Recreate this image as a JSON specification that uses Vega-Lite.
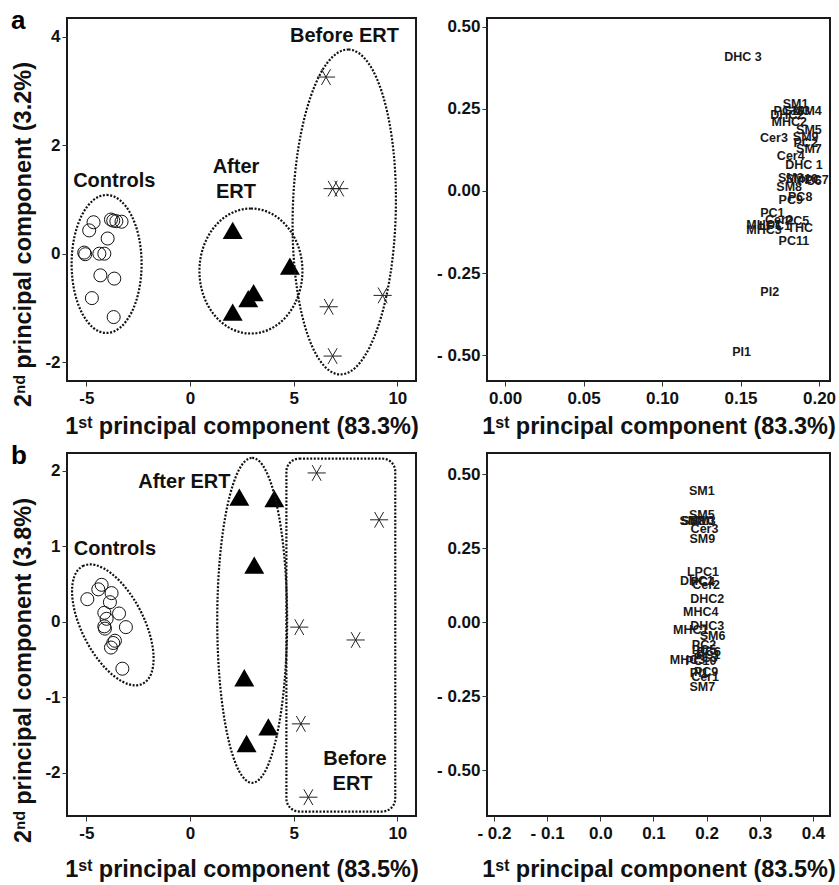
{
  "$schema": "https://vega.github.io/schema/vega-lite/v6.json",
  "padding": {"left": 10, "top": 7, "right": 5, "bottom": 5},
  "columns": 2,
  "spacing": {"row": 72, "column": 71},
  "bounds": "flush",
  "datasets": {
    "pcaA": [
      {"group": "Controls", "pc1": -4.65, "pc2": 0.58},
      {"group": "Controls", "pc1": -4.86, "pc2": 0.43},
      {"group": "Controls", "pc1": -3.81, "pc2": 0.63},
      {"group": "Controls", "pc1": -3.7, "pc2": 0.61},
      {"group": "Controls", "pc1": -3.55, "pc2": 0.6},
      {"group": "Controls", "pc1": -3.3, "pc2": 0.59},
      {"group": "Controls", "pc1": -3.97, "pc2": 0.28},
      {"group": "Controls", "pc1": -5.1, "pc2": 0.02},
      {"group": "Controls", "pc1": -5.05, "pc2": -0.01},
      {"group": "Controls", "pc1": -4.37, "pc2": 0.0},
      {"group": "Controls", "pc1": -4.13, "pc2": 0.0},
      {"group": "Controls", "pc1": -4.32, "pc2": -0.4},
      {"group": "Controls", "pc1": -3.65, "pc2": -0.46},
      {"group": "Controls", "pc1": -4.73, "pc2": -0.82},
      {"group": "Controls", "pc1": -3.68, "pc2": -1.17},
      {"group": "After ERT", "pc1": 2.06, "pc2": 0.43},
      {"group": "After ERT", "pc1": 4.82, "pc2": -0.23},
      {"group": "After ERT", "pc1": 3.07, "pc2": -0.72},
      {"group": "After ERT", "pc1": 2.81, "pc2": -0.83},
      {"group": "After ERT", "pc1": 2.06, "pc2": -1.08},
      {"group": "Before ERT", "pc1": 6.56, "pc2": 3.26},
      {"group": "Before ERT", "pc1": 6.88, "pc2": 1.2},
      {"group": "Before ERT", "pc1": 7.2, "pc2": 1.2},
      {"group": "Before ERT", "pc1": 9.29, "pc2": -0.77},
      {"group": "Before ERT", "pc1": 6.69, "pc2": -0.98},
      {"group": "Before ERT", "pc1": 6.88, "pc2": -1.89}
    ],
    "pcaB": [
      {"group": "Controls", "pc1": -4.95, "pc2": 0.3},
      {"group": "Controls", "pc1": -4.26, "pc2": 0.49},
      {"group": "Controls", "pc1": -4.42, "pc2": 0.43},
      {"group": "Controls", "pc1": -3.78, "pc2": 0.38},
      {"group": "Controls", "pc1": -3.86, "pc2": 0.26},
      {"group": "Controls", "pc1": -4.13, "pc2": 0.12},
      {"group": "Controls", "pc1": -3.42, "pc2": 0.11},
      {"group": "Controls", "pc1": -4.02, "pc2": 0.04},
      {"group": "Controls", "pc1": -4.13, "pc2": -0.06},
      {"group": "Controls", "pc1": -3.09, "pc2": -0.07},
      {"group": "Controls", "pc1": -4.1, "pc2": -0.09},
      {"group": "Controls", "pc1": -3.62, "pc2": -0.25},
      {"group": "Controls", "pc1": -3.7, "pc2": -0.28},
      {"group": "Controls", "pc1": -3.81, "pc2": -0.34},
      {"group": "Controls", "pc1": -3.26, "pc2": -0.62},
      {"group": "After ERT", "pc1": 2.38, "pc2": 1.65},
      {"group": "After ERT", "pc1": 4.07, "pc2": 1.63},
      {"group": "After ERT", "pc1": 3.1, "pc2": 0.75},
      {"group": "After ERT", "pc1": 2.62, "pc2": -0.74},
      {"group": "After ERT", "pc1": 3.78, "pc2": -1.39},
      {"group": "After ERT", "pc1": 2.73, "pc2": -1.61},
      {"group": "Before ERT", "pc1": 6.11, "pc2": 1.97},
      {"group": "Before ERT", "pc1": 9.12, "pc2": 1.35},
      {"group": "Before ERT", "pc1": 5.27, "pc2": -0.07},
      {"group": "Before ERT", "pc1": 7.99, "pc2": -0.24},
      {"group": "Before ERT", "pc1": 5.35, "pc2": -1.35},
      {"group": "Before ERT", "pc1": 5.71, "pc2": -2.32}
    ],
    "loadA": [
      {"lipid": "DHC 3", "pc1": 0.1516, "pc2": 0.409},
      {"lipid": "SM1", "pc1": 0.1851, "pc2": 0.266},
      {"lipid": "PC10", "pc1": 0.181, "pc2": 0.244},
      {"lipid": "SM3", "pc1": 0.186, "pc2": 0.244},
      {"lipid": "SM4", "pc1": 0.1936, "pc2": 0.244},
      {"lipid": "DHC2", "pc1": 0.1798, "pc2": 0.232},
      {"lipid": "MHC2", "pc1": 0.181, "pc2": 0.21},
      {"lipid": "SM5", "pc1": 0.1936, "pc2": 0.186},
      {"lipid": "Cer3", "pc1": 0.1713, "pc2": 0.16},
      {"lipid": "SM9", "pc1": 0.1915, "pc2": 0.163},
      {"lipid": "PC2", "pc1": 0.1915, "pc2": 0.145},
      {"lipid": "SM7", "pc1": 0.1936, "pc2": 0.128},
      {"lipid": "Cer4", "pc1": 0.182, "pc2": 0.108},
      {"lipid": "DHC 1", "pc1": 0.1904, "pc2": 0.078},
      {"lipid": "SM2", "pc1": 0.182, "pc2": 0.041},
      {"lipid": "SM10", "pc1": 0.189, "pc2": 0.036},
      {"lipid": "PC7", "pc1": 0.1985, "pc2": 0.033},
      {"lipid": "PC6", "pc1": 0.194, "pc2": 0.03},
      {"lipid": "SM8", "pc1": 0.181, "pc2": 0.013},
      {"lipid": "PC8", "pc1": 0.188, "pc2": -0.017},
      {"lipid": "PC9", "pc1": 0.182, "pc2": -0.027},
      {"lipid": "PC1", "pc1": 0.1703, "pc2": -0.068},
      {"lipid": "Cer2", "pc1": 0.1745, "pc2": -0.089},
      {"lipid": "PC5", "pc1": 0.186, "pc2": -0.092},
      {"lipid": "MHC1", "pc1": 0.165, "pc2": -0.103},
      {"lipid": "LPC1", "pc1": 0.172, "pc2": -0.106},
      {"lipid": "THC", "pc1": 0.188, "pc2": -0.114},
      {"lipid": "MHC3", "pc1": 0.165, "pc2": -0.12},
      {"lipid": "PC11", "pc1": 0.184, "pc2": -0.152},
      {"lipid": "PI2", "pc1": 0.1686, "pc2": -0.307},
      {"lipid": "PI1", "pc1": 0.1507, "pc2": -0.491}
    ],
    "loadB": [
      {"lipid": "SM1", "pc1": 0.191, "pc2": 0.442},
      {"lipid": "SM5", "pc1": 0.191, "pc2": 0.362},
      {"lipid": "SM8", "pc1": 0.173, "pc2": 0.343},
      {"lipid": "SM3", "pc1": 0.193, "pc2": 0.343},
      {"lipid": "SM10", "pc1": 0.183, "pc2": 0.34},
      {"lipid": "Cer3", "pc1": 0.196, "pc2": 0.315},
      {"lipid": "SM9", "pc1": 0.192, "pc2": 0.281},
      {"lipid": "LPC1", "pc1": 0.193, "pc2": 0.169},
      {"lipid": "DHC1", "pc1": 0.182, "pc2": 0.138},
      {"lipid": "PC4", "pc1": 0.193, "pc2": 0.136},
      {"lipid": "Cer2", "pc1": 0.199, "pc2": 0.124},
      {"lipid": "DHC2", "pc1": 0.201, "pc2": 0.077},
      {"lipid": "MHC4", "pc1": 0.189, "pc2": 0.033},
      {"lipid": "DHC3", "pc1": 0.201, "pc2": -0.012},
      {"lipid": "MHC1", "pc1": 0.17, "pc2": -0.027},
      {"lipid": "SM6", "pc1": 0.211, "pc2": -0.047},
      {"lipid": "PC2", "pc1": 0.195, "pc2": -0.077},
      {"lipid": "PC5", "pc1": 0.195, "pc2": -0.094},
      {"lipid": "PC6", "pc1": 0.204, "pc2": -0.1},
      {"lipid": "PC1", "pc1": 0.203, "pc2": -0.112},
      {"lipid": "PC3", "pc1": 0.198, "pc2": -0.122},
      {"lipid": "MHC3", "pc1": 0.164, "pc2": -0.128},
      {"lipid": "PC10", "pc1": 0.189, "pc2": -0.133},
      {"lipid": "PC9", "pc1": 0.199, "pc2": -0.167},
      {"lipid": "PI1", "pc1": 0.186, "pc2": -0.173},
      {"lipid": "Cer1", "pc1": 0.197, "pc2": -0.187},
      {"lipid": "SM7", "pc1": 0.192, "pc2": -0.219}
    ],
    "labelsA": [
      {"label": "Before ERT", "pc1": 7.45, "pc2": 4.02},
      {"label": "Controls", "pc1": -3.65, "pc2": 1.34},
      {"label": "After", "pc1": 2.22, "pc2": 1.6},
      {"label": "ERT", "pc1": 2.22, "pc2": 1.14}
    ],
    "labelsB": [
      {"label": "After ERT", "pc1": -0.27, "pc2": 1.85},
      {"label": "Controls", "pc1": -3.62, "pc2": 0.96},
      {"label": "Before", "pc1": 7.96, "pc2": -1.82},
      {"label": "ERT", "pc1": 7.84, "pc2": -2.15}
    ],
    "hullA": [
      {"group": "Controls", "pc1": -4.02, "pc2": -0.19},
      {"group": "After ERT", "pc1": 2.94, "pc2": -0.32},
      {"group": "Before ERT", "pc1": 7.44, "pc2": 0.77}
    ],
    "hullB": [
      {"group": "Controls", "pc1": -3.72, "pc2": -0.04},
      {"group": "After ERT", "pc1": 3.0, "pc2": 0.02}
    ],
    "boxB": [
      {"group": "Before ERT", "x1": 4.65, "x2": 9.9, "y1": 2.16, "y2": -2.51}
    ]
  },
  "concat": [
    {
      "width": 349,
      "height": 363,
      "title": {"text": "a", "anchor": "start", "frame": "group", "fontSize": 26, "fontWeight": "bold", "font": "Liberation Sans", "color": "#000", "baseline": "alphabetic", "offset": -37, "dx": -56},
      "layer": [
        {
          "data": {"name": "pcaA"},
          "transform": [{"filter": "datum.group === 'Controls'"}],
          "mark": {"type": "point", "shape": "circle", "size": 170, "filled": false, "color": "#111", "strokeWidth": 1, "opacity": 1},
          "encoding": {
            "x": {"field": "pc1", "type": "quantitative", "scale": {"domain": [-5.93, 10.9], "nice": false, "zero": false},
              "axis": {"values": [-5, 0, 5, 10], "labelExpr": "datum.value < 0 ? '-' + abs(datum.value) : '' + datum.value", "title": "1ˢᵗ principal component (83.3%)"}},
            "y": {"field": "pc2", "type": "quantitative", "scale": {"domain": [-2.35, 4.35], "nice": false, "zero": false},
              "axis": {"values": [-2, 0, 2, 4], "labelExpr": "datum.value < 0 ? '-' + abs(datum.value) : '' + datum.value", "title": "2ⁿᵈ principal component (3.2%)", "titleY": 216, "titleX": -44, "titleBaseline": "middle"}}
          }
        },
        {"mark": {"type": "rule", "color": "#8c8c8c", "strokeWidth": 1}, "encoding": {"x": {"datum": 0, "type": "quantitative"}}},
        {"mark": {"type": "rule", "color": "#8c8c8c", "strokeWidth": 1}, "encoding": {"y": {"datum": 0, "type": "quantitative"}}},
        {
          "data": {"name": "pcaA"},
          "transform": [{"filter": "datum.group === 'After ERT'"}],
          "mark": {"type": "point", "shape": "triangle-up", "size": 400, "filled": true, "color": "#000", "opacity": 1},
          "encoding": {"x": {"field": "pc1", "type": "quantitative"}, "y": {"field": "pc2", "type": "quantitative"}}
        },
        {
          "data": {"name": "pcaA"},
          "transform": [{"filter": "datum.group === 'Before ERT'"}],
          "mark": {"type": "point", "shape": "M -1 0 L 1 0 M -0.5 -0.866 L 0.5 0.866 M 0.5 -0.866 L -0.5 0.866", "size": 330, "filled": false, "color": "#222", "strokeWidth": 1, "opacity": 1},
          "encoding": {"x": {"field": "pc1", "type": "quantitative"}, "y": {"field": "pc2", "type": "quantitative"}}
        },
        {
          "data": {"name": "hullA"},
          "transform": [{"filter": "datum.group === 'Controls'"}],
          "mark": {"type": "point", "shape": "M 0 -1 A 0.507 1 0 1 1 0 1 A 0.507 1 0 1 1 0 -1 Z", "size": 19044, "filled": false, "color": "#111", "strokeWidth": 2.2, "strokeDash": [2, 1.6], "opacity": 1},
          "encoding": {"x": {"field": "pc1", "type": "quantitative"}, "y": {"field": "pc2", "type": "quantitative"}}
        },
        {
          "data": {"name": "hullA"},
          "transform": [{"filter": "datum.group === 'After ERT'"}],
          "mark": {"type": "point", "shape": "M 0 -1 A 0.824 1 0 1 1 0 1 A 0.824 1 0 1 1 0 -1 Z", "size": 15625, "filled": false, "color": "#111", "strokeWidth": 2.2, "strokeDash": [2, 1.6], "opacity": 1},
          "encoding": {"x": {"field": "pc1", "type": "quantitative"}, "y": {"field": "pc2", "type": "quantitative"}}
        },
        {
          "data": {"name": "hullA"},
          "transform": [{"filter": "datum.group === 'Before ERT'"}],
          "mark": {"type": "point", "shape": "M 0 -1 A 0.317 1 0 1 1 0 1 A 0.317 1 0 1 1 0 -1 Z", "size": 105625, "angle": 1.5, "filled": false, "color": "#111", "strokeWidth": 2.2, "strokeDash": [2, 1.6], "opacity": 1},
          "encoding": {"x": {"field": "pc1", "type": "quantitative"}, "y": {"field": "pc2", "type": "quantitative"}}
        },
        {
          "data": {"name": "labelsA"},
          "mark": {"type": "text", "font": "Liberation Sans", "fontSize": 20, "fontWeight": "bold", "color": "#111"},
          "encoding": {"x": {"field": "pc1", "type": "quantitative"}, "y": {"field": "pc2", "type": "quantitative"}, "text": {"field": "label"}}
        }
      ]
    },
    {
      "width": 343,
      "height": 363,
      "data": {"name": "loadA"},
      "mark": {"type": "text", "font": "Liberation Sans", "fontSize": 12.5, "fontWeight": "bold", "color": "#1a1a1a"},
      "encoding": {
        "x": {"field": "pc1", "type": "quantitative", "scale": {"domain": [-0.0115, 0.207], "nice": false, "zero": false},
          "axis": {"values": [0, 0.05, 0.1, 0.15, 0.2], "format": ".2f", "title": "1ˢᵗ principal component (83.3%)"}},
        "y": {"field": "pc2", "type": "quantitative", "scale": {"domain": [-0.579, 0.527], "nice": false, "zero": false},
          "axis": {"values": [-0.5, -0.25, 0, 0.25, 0.5], "labelExpr": "datum.value < 0 ? '- ' + format(-datum.value, '.2f') : format(datum.value, '.2f')", "title": null}},
        "text": {"field": "lipid"}
      }
    },
    {
      "width": 349,
      "height": 363,
      "title": {"text": "b", "anchor": "start", "frame": "group", "fontSize": 26, "fontWeight": "bold", "font": "Liberation Sans", "color": "#000", "baseline": "alphabetic", "offset": -37, "dx": -56},
      "layer": [
        {
          "data": {"name": "pcaB"},
          "transform": [{"filter": "datum.group === 'Controls'"}],
          "mark": {"type": "point", "shape": "circle", "size": 170, "filled": false, "color": "#111", "strokeWidth": 1, "opacity": 1},
          "encoding": {
            "x": {"field": "pc1", "type": "quantitative", "scale": {"domain": [-5.93, 10.9], "nice": false, "zero": false},
              "axis": {"values": [-5, 0, 5, 10], "labelExpr": "datum.value < 0 ? '-' + abs(datum.value) : '' + datum.value", "title": "1ˢᵗ principal component (83.5%)", "titlePadding": 16}},
            "y": {"field": "pc2", "type": "quantitative", "scale": {"domain": [-2.569, 2.234], "nice": false, "zero": false},
              "axis": {"values": [-2, -1, 0, 1, 2], "labelExpr": "datum.value < 0 ? '-' + abs(datum.value) : '' + datum.value", "title": "2ⁿᵈ principal component (3.8%)", "titleY": 217, "titleX": -44, "titleBaseline": "middle"}}
          }
        },
        {"mark": {"type": "rule", "color": "#8c8c8c", "strokeWidth": 1}, "encoding": {"x": {"datum": 0, "type": "quantitative"}}},
        {"mark": {"type": "rule", "color": "#8c8c8c", "strokeWidth": 1}, "encoding": {"y": {"datum": 0, "type": "quantitative"}}},
        {
          "data": {"name": "pcaB"},
          "transform": [{"filter": "datum.group === 'After ERT'"}],
          "mark": {"type": "point", "shape": "triangle-up", "size": 400, "filled": true, "color": "#000", "opacity": 1},
          "encoding": {"x": {"field": "pc1", "type": "quantitative"}, "y": {"field": "pc2", "type": "quantitative"}}
        },
        {
          "data": {"name": "pcaB"},
          "transform": [{"filter": "datum.group === 'Before ERT'"}],
          "mark": {"type": "point", "shape": "M -1 0 L 1 0 M -0.5 -0.866 L 0.5 0.866 M 0.5 -0.866 L -0.5 0.866", "size": 330, "filled": false, "color": "#222", "strokeWidth": 1, "opacity": 1},
          "encoding": {"x": {"field": "pc1", "type": "quantitative"}, "y": {"field": "pc2", "type": "quantitative"}}
        },
        {
          "data": {"name": "hullB"},
          "transform": [{"filter": "datum.group === 'Controls'"}],
          "mark": {"type": "point", "shape": "M 0 -1 A 0.47 1 0 1 1 0 1 A 0.47 1 0 1 1 0 -1 Z", "size": 17424, "angle": -27, "filled": false, "color": "#111", "strokeWidth": 2.2, "strokeDash": [2, 1.6], "opacity": 1},
          "encoding": {"x": {"field": "pc1", "type": "quantitative"}, "y": {"field": "pc2", "type": "quantitative"}}
        },
        {
          "data": {"name": "hullB"},
          "transform": [{"filter": "datum.group === 'After ERT'"}],
          "mark": {"type": "point", "shape": "M 0 -1 A 0.215 1 0 1 1 0 1 A 0.215 1 0 1 1 0 -1 Z", "size": 105625, "filled": false, "color": "#111", "strokeWidth": 2.2, "strokeDash": [2, 1.6], "opacity": 1},
          "encoding": {"x": {"field": "pc1", "type": "quantitative"}, "y": {"field": "pc2", "type": "quantitative"}}
        },
        {
          "data": {"name": "boxB"},
          "mark": {"type": "rect", "fill": null, "stroke": "#111", "strokeWidth": 2.2, "strokeDash": [2, 1.6], "cornerRadius": 13},
          "encoding": {"x": {"field": "x1", "type": "quantitative"}, "x2": {"field": "x2"}, "y": {"field": "y1", "type": "quantitative"}, "y2": {"field": "y2"}}
        },
        {
          "data": {"name": "labelsB"},
          "mark": {"type": "text", "font": "Liberation Sans", "fontSize": 20, "fontWeight": "bold", "color": "#111"},
          "encoding": {"x": {"field": "pc1", "type": "quantitative"}, "y": {"field": "pc2", "type": "quantitative"}, "text": {"field": "label"}}
        }
      ]
    },
    {
      "width": 343,
      "height": 363,
      "data": {"name": "loadB"},
      "mark": {"type": "text", "font": "Liberation Sans", "fontSize": 12.5, "fontWeight": "bold", "color": "#1a1a1a"},
      "encoding": {
        "x": {"field": "pc1", "type": "quantitative", "scale": {"domain": [-0.213, 0.432], "nice": false, "zero": false},
          "axis": {"values": [-0.2, -0.1, 0, 0.1, 0.2, 0.3, 0.4], "labelExpr": "datum.value < 0 ? '- ' + format(-datum.value, '.1f') : format(datum.value, '.1f')", "title": "1ˢᵗ principal component (83.5%)", "titlePadding": 16}},
        "y": {"field": "pc2", "type": "quantitative", "scale": {"domain": [-0.655, 0.571], "nice": false, "zero": false},
          "axis": {"values": [-0.5, -0.25, 0, 0.25, 0.5], "labelExpr": "datum.value < 0 ? '- ' + format(-datum.value, '.2f') : format(datum.value, '.2f')", "title": null}},
        "text": {"field": "lipid"}
      }
    }
  ],
  "config": {
    "font": "Liberation Sans",
    "view": {"stroke": "#1a1a1a", "strokeWidth": 2},
    "axis": {
      "grid": false, "domain": false,
      "labelFont": "Liberation Sans", "labelFontSize": 17, "labelFontWeight": "bold", "labelColor": "#111",
      "tickColor": "#333", "tickSize": 5, "tickWidth": 1,
      "titleFont": "Liberation Sans", "titleFontSize": 23.5, "titleFontWeight": "bold", "titleColor": "#111"
    },
    "axisX": {"labelPadding": 4, "titlePadding": 8},
    "axisY": {"labelPadding": 2}
  }
}
